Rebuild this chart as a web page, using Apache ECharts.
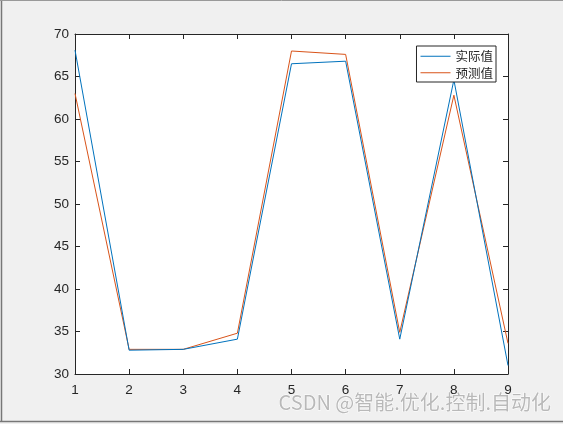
<!DOCTYPE html>
<html><head><meta charset="utf-8">
<script src="https://cdn.jsdelivr.net/npm/echarts@6/dist/echarts.min.js"></script>
<style>html,body{margin:0;padding:0;background:#f0f0f0;}#c{width:563px;height:424px;}</style>
</head><body><div id="c"></div>
<script>
const categories = [1, 2, 3, 4, 5, 6, 7, 8, 9];
const actual = [68.1, 32.8, 32.9, 34.1, 66.5, 66.8, 34.1, 64.6, 31.0];
const predicted = [63.0, 32.9, 32.9, 34.8, 68.0, 67.6, 34.9, 62.8, 33.6];
const seriesNames = ['实际值', '预测值'];
const watermark = 'CSDN @智能.优化.控制.自动化';

const chart = echarts.init(document.getElementById('c'), null, {renderer: 'canvas'});
const axisLine = {show: true, lineStyle: {color: '#262626', width: 1}};
const tick = {show: true, inside: true, length: 5, lineStyle: {color: '#262626'}};
const lbl = {color: '#262626', fontSize: 13.5, fontFamily: 'Liberation Sans, Arial, sans-serif'};
chart.setOption({
  backgroundColor: '#f0f0f0',
  animation: false,
  grid: {left: 75, top: 34, right: 55, bottom: 50, show: true, backgroundColor: '#ffffff', borderWidth: 0},
  legend: {
    data: seriesNames, orient: 'vertical', right: 67, top: 46,
    backgroundColor: '#ffffff', borderColor: '#262626', borderWidth: 1, borderRadius: 0,
    padding: [4, 3, 3, 4], itemGap: 4, itemWidth: 30, itemHeight: 10,
    icon: 'path://M0,4.5L30,4.5L30,5.5L0,5.5Z',
    textStyle: {fontSize: 12.5, color: '#262626', fontFamily: 'Noto Sans CJK SC'}
  },
  xAxis: [
    {type: 'value', min: 1, max: 9, interval: 1, position: 'bottom', axisLine, axisTick: tick,
     axisLabel: Object.assign({margin: 9}, lbl), splitLine: {show: false}},
    {type: 'value', min: 1, max: 9, interval: 1, position: 'top', axisLine, axisTick: tick,
     axisLabel: {show: false}, splitLine: {show: false}}
  ],
  yAxis: [
    {type: 'value', min: 30, max: 70, interval: 5, position: 'left', axisLine, axisTick: tick,
     axisLabel: Object.assign({margin: 6}, lbl), splitLine: {show: false}},
    {type: 'value', min: 30, max: 70, interval: 5, position: 'right', axisLine, axisTick: tick,
     axisLabel: {show: false}, splitLine: {show: false}}
  ],
  series: [
    {name: seriesNames[0], type: 'line', data: categories.map((c, i) => [c, actual[i]]),
     showSymbol: false, symbol: 'none', lineStyle: {color: '#0072bd', width: 1}, itemStyle: {color: '#0072bd'}, z: 3},
    {name: seriesNames[1], type: 'line', data: categories.map((c, i) => [c, predicted[i]]),
     showSymbol: false, symbol: 'none', lineStyle: {color: '#d95319', width: 1}, itemStyle: {color: '#d95319'}, z: 2}
  ],
  graphic: [
    {type: 'line', shape: {x1: 1.5, y1: 0, x2: 1.5, y2: 421}, style: {stroke: '#777777', lineWidth: 1.5}},
    {type: 'line', shape: {x1: 0, y1: 421.5, x2: 563, y2: 421.5}, style: {stroke: '#777777', lineWidth: 1.5}},
    {type: 'line', shape: {x1: 0, y1: 0.5, x2: 563, y2: 0.5}, style: {stroke: '#999999', lineWidth: 1}},
    {type: 'text', left: 278, top: 392, style: {text: watermark, fontSize: 20, fill: '#b9b9b9',
      stroke: '#ffffff', lineWidth: 1, fontFamily: 'Noto Sans CJK SC'}}
  ]
});
</script></body></html>
